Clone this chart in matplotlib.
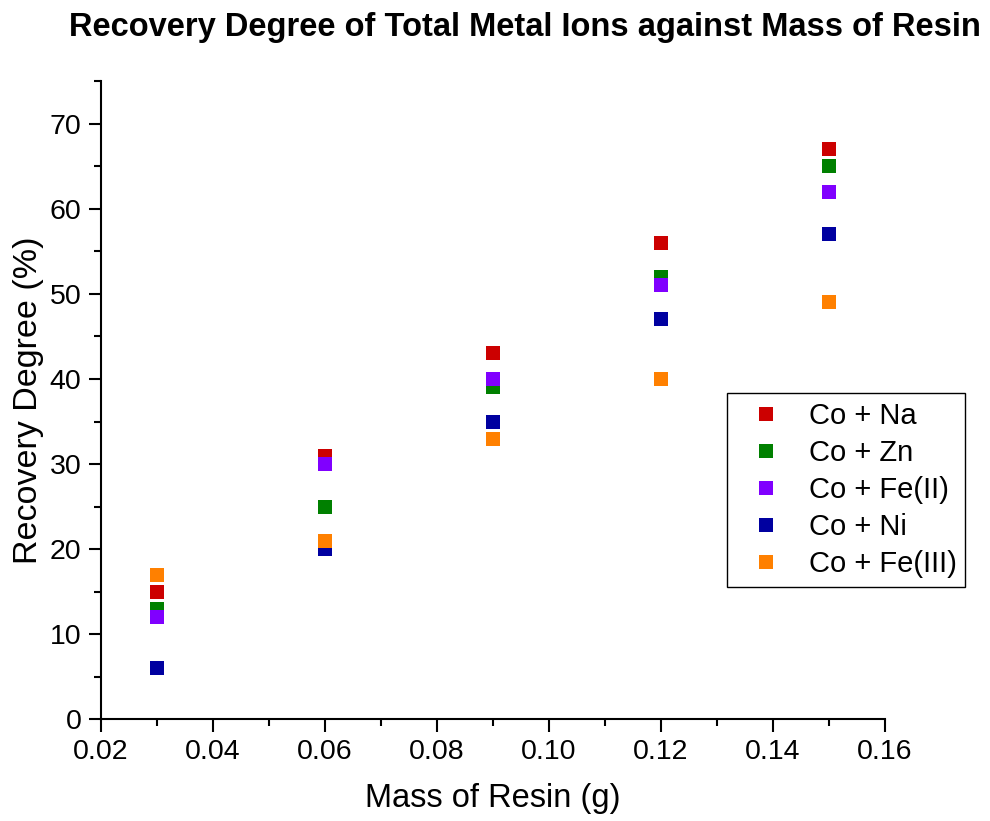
import matplotlib
matplotlib.use("Agg")
import matplotlib.pyplot as plt
from matplotlib.ticker import MultipleLocator

# =========================
# Data
# =========================
mass = [0.03, 0.06, 0.09, 0.12, 0.15]

co_na = [15, 31, 43, 56, 67]
co_zn = [13, 25, 39, 52, 65]
co_fe2 = [12, 30, 40, 51, 62]
co_ni = [6, 20, 35, 47, 57]
co_fe3 = [17, 21, 33, 40, 49]

labels = ["Co + Na", "Co + Zn", "Co + Fe(II)", "Co + Ni", "Co + Fe(III)"]
colors = ["#CC0000", "#008000", "#8000FF", "#0000A0", "#FF8000"]

# =========================
# Plot
# =========================
plt.rcParams["font.family"] = ["Liberation Sans", "DejaVu Sans"]

fig = plt.figure(figsize=(9.9, 8.21), dpi=100)
ax = fig.add_axes([0.102, 0.124, 0.792, 0.777])

for series, label, color in zip([co_na, co_zn, co_fe2, co_ni, co_fe3], labels, colors):
    ax.plot(mass, series, linestyle="none", marker="s", markersize=10,
            markeredgewidth=0, color=color, label=label)

ax.set_xlim(0.02, 0.16)
ax.set_ylim(0, 75)
ax.xaxis.set_major_locator(MultipleLocator(0.02))
ax.xaxis.set_minor_locator(MultipleLocator(0.01))
ax.yaxis.set_major_locator(MultipleLocator(10))
ax.yaxis.set_minor_locator(MultipleLocator(5))
ax.xaxis.set_major_formatter(plt.FormatStrFormatter("%.2f"))

for side in ["top", "right"]:
    ax.spines[side].set_visible(False)
for side in ["left", "bottom"]:
    ax.spines[side].set_linewidth(1.5)

ax.tick_params(which="major", direction="out", length=9, width=1.5, labelsize=20.5, pad=5)
ax.tick_params(which="minor", direction="out", length=5, width=1.5)

ax.set_xlabel("Mass of Resin (g)", fontsize=23.5, labelpad=13)
ax.set_ylabel("Recovery Degree (%)", fontsize=24.5, labelpad=4)

fig.text(0.53, 0.967, "Recovery Degree of Total Metal Ions against Mass of Resin",
         ha="center", va="center", fontsize=23.5, fontweight="bold")

leg = ax.legend(loc="upper left", bbox_to_anchor=(727 / 990, 1 - 393 / 821),
                bbox_transform=fig.transFigure, fontsize=21, frameon=True,
                fancybox=False, edgecolor="black", framealpha=1,
                borderpad=0.3, labelspacing=0.31, handletextpad=0.4,
                handlelength=2.1, borderaxespad=0, markerscale=1.05)
leg.get_frame().set_linewidth(1.0)

plt.savefig("out.png", dpi=100)
